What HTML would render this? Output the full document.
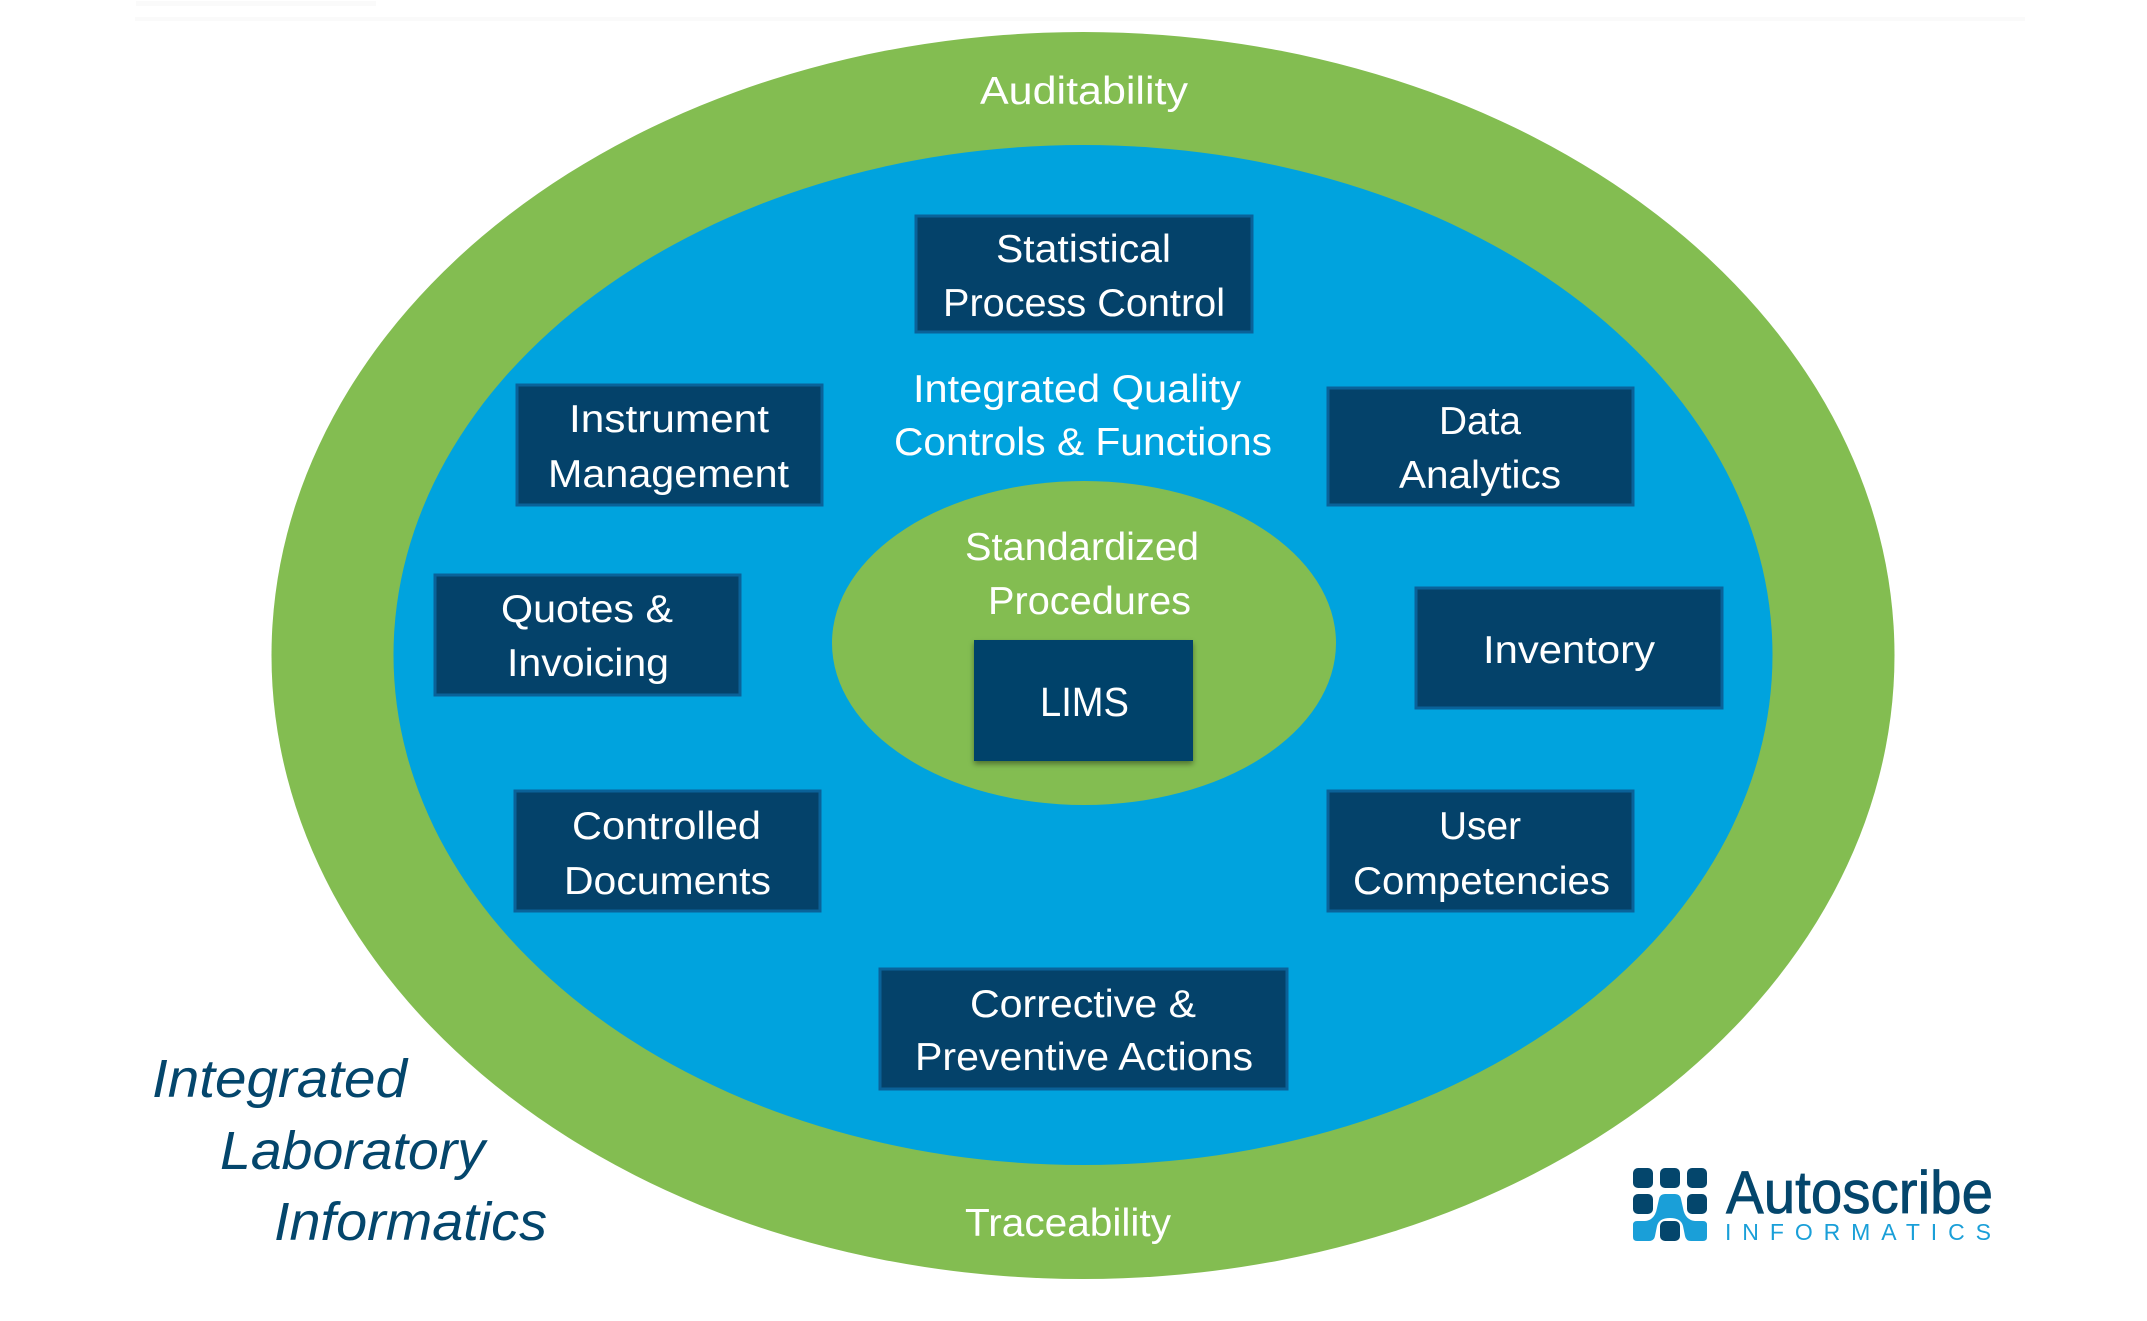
<!DOCTYPE html>
<html><head><meta charset="utf-8"><style>
html,body{margin:0;padding:0;background:#fff;width:2147px;height:1321px;overflow:hidden}
svg{display:block}
text{font-family:"Liberation Sans",sans-serif;fill:#fff;font-size:39px}
.i{font-style:italic;fill:#04466c;font-size:54px}
rect.b{fill:#04426a;stroke:#0a6299;stroke-width:3}
</style></head><body>
<svg width="2147" height="1321" viewBox="0 0 2147 1321" xmlns="http://www.w3.org/2000/svg">
<defs><filter id="s" x="-10%" y="-10%" width="120%" height="125%"><feDropShadow dx="0" dy="3" stdDeviation="3" flood-color="#000" flood-opacity=".4"/></filter></defs>
<rect x="136" y="1" width="240" height="5" fill="#fafafa"/>
<rect x="135" y="17" width="1890" height="4" fill="#fafafa"/>
<ellipse cx="1083" cy="655.5" rx="811.5" ry="623.5" fill="#83bd51"/>
<ellipse cx="1083" cy="655" rx="689.5" ry="510" fill="#00a3de"/>
<ellipse cx="1084" cy="643" rx="252" ry="162" fill="#83bd51"/>

<rect class="b" x="916" y="216" width="336" height="116"/>
<rect class="b" x="517" y="385" width="305" height="120"/>
<rect class="b" x="1328" y="388" width="305" height="117"/>
<rect class="b" x="435" y="575" width="305" height="120"/>
<rect class="b" x="1416" y="588" width="306" height="120"/>
<rect class="b" x="515" y="791" width="305" height="120"/>
<rect class="b" x="1328" y="791" width="305" height="120"/>
<rect class="b" x="880" y="969" width="407" height="120"/>
<rect x="974" y="640" width="219" height="121" fill="#04426a" filter="url(#s)"/>

<text x="980" y="104" textLength="208" lengthAdjust="spacingAndGlyphs">Auditability</text>
<text x="996" y="262" textLength="175" lengthAdjust="spacingAndGlyphs">Statistical</text>
<text x="943" y="316" textLength="282" lengthAdjust="spacingAndGlyphs">Process Control</text>
<text x="913" y="402" textLength="328" lengthAdjust="spacingAndGlyphs">Integrated Quality</text>
<text x="894" y="455" textLength="378" lengthAdjust="spacingAndGlyphs">Controls &amp; Functions</text>
<text x="569" y="432" textLength="200" lengthAdjust="spacingAndGlyphs">Instrument</text>
<text x="548" y="487" textLength="241" lengthAdjust="spacingAndGlyphs">Management</text>
<text x="1439" y="434" textLength="82" lengthAdjust="spacingAndGlyphs">Data</text>
<text x="1399" y="488" textLength="162" lengthAdjust="spacingAndGlyphs">Analytics</text>
<text x="965" y="560" textLength="234" lengthAdjust="spacingAndGlyphs">Standardized</text>
<text x="988" y="614" textLength="203" lengthAdjust="spacingAndGlyphs">Procedures</text>
<text x="1040" y="716" textLength="89" lengthAdjust="spacingAndGlyphs" style="font-size:41px">LIMS</text>
<text x="501" y="622" textLength="172" lengthAdjust="spacingAndGlyphs">Quotes &amp;</text>
<text x="507" y="676" textLength="162" lengthAdjust="spacingAndGlyphs">Invoicing</text>
<text x="1483" y="663" textLength="172" lengthAdjust="spacingAndGlyphs">Inventory</text>
<text x="572" y="839" textLength="189" lengthAdjust="spacingAndGlyphs">Controlled</text>
<text x="564" y="894" textLength="207" lengthAdjust="spacingAndGlyphs">Documents</text>
<text x="1439" y="839" textLength="82" lengthAdjust="spacingAndGlyphs">User</text>
<text x="1353" y="894" textLength="257" lengthAdjust="spacingAndGlyphs">Competencies</text>
<text x="970" y="1017" textLength="226" lengthAdjust="spacingAndGlyphs">Corrective &amp;</text>
<text x="915" y="1070" textLength="338" lengthAdjust="spacingAndGlyphs">Preventive Actions</text>
<text x="965" y="1236" textLength="206" lengthAdjust="spacingAndGlyphs">Traceability</text>

<text class="i" x="152" y="1097" textLength="255" lengthAdjust="spacingAndGlyphs">Integrated</text>
<text class="i" x="220" y="1169" textLength="265" lengthAdjust="spacingAndGlyphs">Laboratory</text>
<text class="i" x="274" y="1240" textLength="273" lengthAdjust="spacingAndGlyphs">Informatics</text>

<g fill="#04466c">
<rect x="1633" y="1168" width="20" height="20" rx="5"/>
<rect x="1660" y="1168" width="20" height="20" rx="5"/>
<rect x="1687" y="1168" width="20" height="20" rx="5"/>
<rect x="1633" y="1194" width="20" height="20" rx="5"/>
<rect x="1687" y="1194" width="20" height="20" rx="5"/>
<rect x="1660" y="1221" width="20" height="20" rx="5"/>
</g>
<path d="M1665 1194H1675Q1680 1194 1681 1199L1683 1208Q1685 1220 1695 1221H1703Q1707 1221 1707 1225V1237Q1707 1241 1703 1241H1691Q1686 1241 1685 1236L1683 1226Q1681 1218 1670 1218Q1659 1218 1657 1226L1655 1236Q1654 1241 1649 1241H1637Q1633 1241 1633 1237V1225Q1633 1221 1637 1221H1645Q1655 1220 1657 1208L1659 1199Q1660 1194 1665 1194Z" fill="#1a9fd8"/>
<text x="1726" y="1213" textLength="267" lengthAdjust="spacingAndGlyphs" style="fill:#04466c;stroke:#04466c;stroke-width:.8;font-size:60px">Autoscribe</text>
<text x="1725" y="1240" textLength="266" lengthAdjust="spacing" style="fill:#1a9fd8;font-size:23px">INFORMATICS</text>
</svg>
</body></html>
